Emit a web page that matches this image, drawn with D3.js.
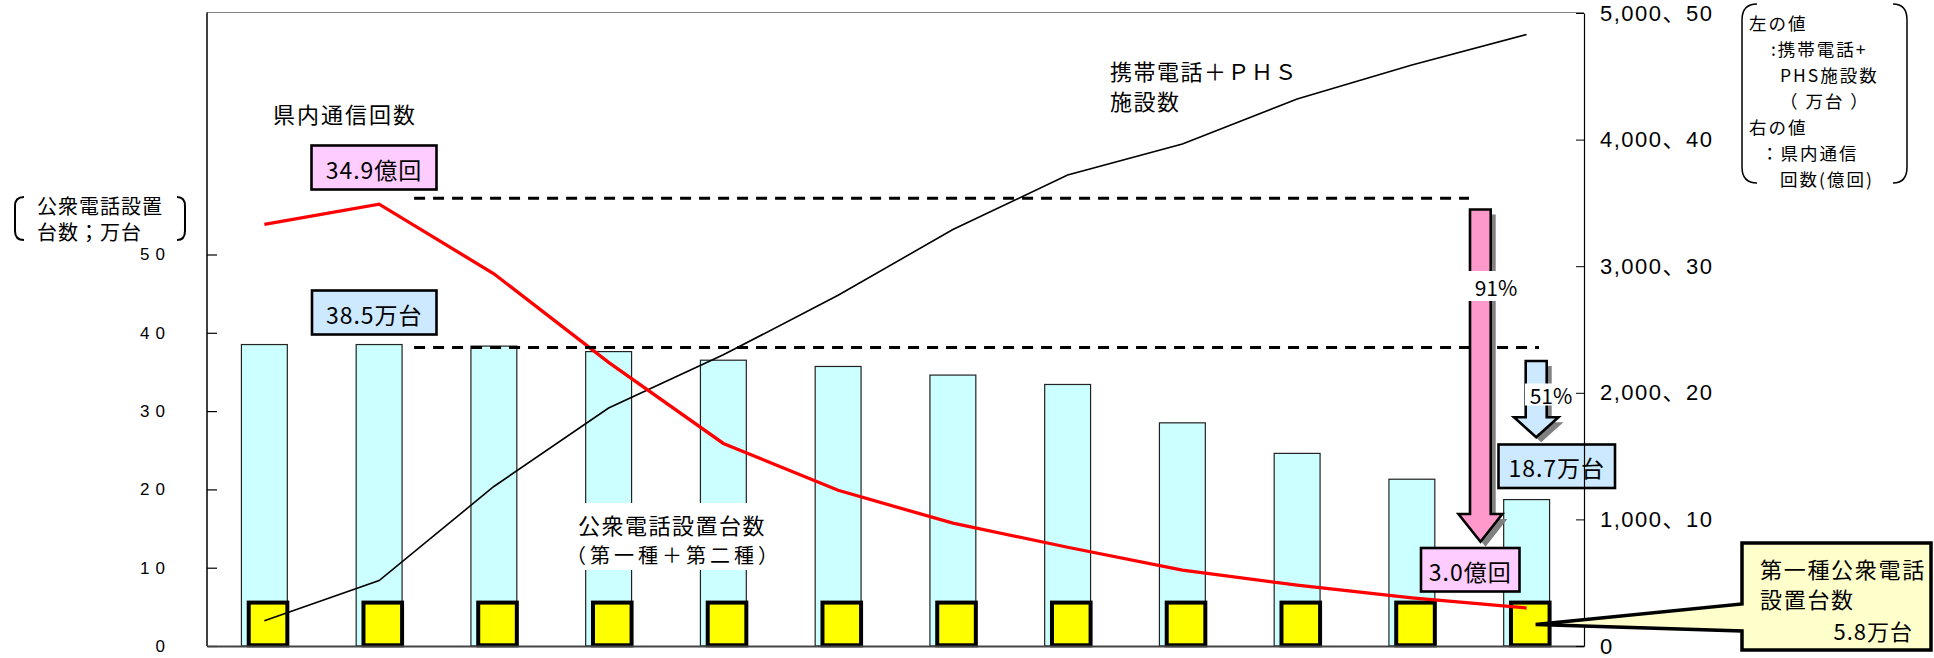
<!DOCTYPE html>
<html>
<head>
<meta charset="utf-8">
<script src="https://cdn.jsdelivr.net/npm/d3@7"></script>
<style>
  body { margin: 0; background: #fff; }
  svg { display: block; font-family: "Noto Sans CJK JP", sans-serif; }
</style>
</head>
<body>
<svg id="chart" width="1934" height="658"></svg>
<script>
// 期間（横軸ラベルは表示されていない）
const periods = ["1", "2", "3", "4", "5", "6", "7", "8", "9", "10", "11", "12"];
// 公衆電話設置台数（第一種＋第二種）万台
const totalPhones = [38.5, 38.5, 38.3, 37.6, 36.5, 35.7, 34.6, 33.4, 28.5, 24.6, 21.3, 18.7];
// 第一種公衆電話設置台数 万台
const type1Phones = [5.8, 5.8, 5.8, 5.8, 5.8, 5.8, 5.8, 5.8, 5.8, 5.8, 5.8, 5.8];
// 携帯電話＋PHS施設数 万台（右軸）
const mobilePhs = [200, 517, 1260, 1880, 2300, 2770, 3290, 3720, 3965, 4320, 4590, 4830];
// 県内通信回数 億回（右軸）
const localCalls = [33.3, 34.9, 29.4, 22.4, 16.0, 12.3, 9.7, 7.8, 6.0, 4.8, 3.8, 3.0];

const leftTicks = [0, 10, 20, 30, 40, 50];
const leftTickLabels = ["0", "10", "20", "30", "40", "50"];
const rightTicks = [0, 1000, 2000, 3000, 4000, 5000];
const rightTickLabels = ["0", "1,000、10", "2,000、20", "3,000、30", "4,000、40", "5,000、50"];

const svg = d3.select("#chart");
const plotL = 207, plotR = 1584, plotT = 12.5, plotB = 646;

const x = d3.scaleBand().domain(periods).range([plotL, plotR]).paddingInner(0.6).paddingOuter(0.3);
const bw = x.bandwidth();
const cx = d => x(d) + bw / 2;
const yL = d3.scaleLinear().domain([0, 50]).range([plotB, 254.5]);
const yM = d3.scaleLinear().domain([0, 5000]).range([plotB, 13]);
const yR = d3.scaleLinear().domain([0, 50]).range([plotB, 13]);

// frame top line
svg.append("line").attr("x1", plotL).attr("x2", plotR).attr("y1", plotT).attr("y2", plotT)
  .attr("stroke", "#808080").attr("stroke-width", 1);

// bars (total)
svg.append("g").selectAll("rect").data(periods).join("rect")
  .attr("x", d => x(d)).attr("width", bw)
  .attr("y", (d, i) => yL(totalPhones[i]))
  .attr("height", (d, i) => plotB - yL(totalPhones[i]))
  .attr("fill", "#ccffff").attr("stroke", "#222").attr("stroke-width", 1.2);

// label for bars with white background
const lblX = (cx(periods[3]) + cx(periods[4])) / 2 + 6;
svg.append("rect").attr("x", lblX - 100).attr("y", 503).attr("width", 200).attr("height", 67).attr("fill", "#fff");
svg.append("text").attr("x", lblX).attr("y", 524).attr("text-anchor", "middle")
  .attr("dominant-baseline", "central").style("font-size", "22px").style("letter-spacing", "1.5px")
  .text("公衆電話設置台数");
svg.append("text").attr("x", lblX + 2).attr("y", 554).attr("text-anchor", "middle")
  .attr("dominant-baseline", "central").style("font-size", "20px").style("letter-spacing", "4px")
  .text("（第一種＋第二種）");

// first-type boxes
svg.append("g").selectAll("rect").data(periods).join("rect")
  .attr("x", d => x(d) + 7.3).attr("width", bw - 7.3)
  .attr("y", (d, i) => yL(type1Phones[i]) + 2)
  .attr("height", (d, i) => plotB - 0.7 - yL(type1Phones[i]) - 2)
  .attr("fill", "#ffff00").attr("stroke", "#000").attr("stroke-width", 4);

// mobile + PHS line
svg.append("path").datum(mobilePhs)
  .attr("d", d3.line().x((d, i) => cx(periods[i])).y(d => yM(d)))
  .attr("fill", "none").attr("stroke", "#000").attr("stroke-width", 1.6);

// local calls line
svg.append("path").datum(localCalls)
  .attr("d", d3.line().x((d, i) => cx(periods[i])).y(d => yR(d)))
  .attr("fill", "none").attr("stroke", "#ff0000").attr("stroke-width", 3.3);

// dashed reference lines
const dashX0 = x(periods[1]) + bw + 12;
svg.append("line").attr("x1", dashX0).attr("x2", 1469)
  .attr("y1", yR(localCalls[1]) - 6).attr("y2", yR(localCalls[1]) - 6)
  .attr("stroke", "#000").attr("stroke-width", 3).attr("stroke-dasharray", "11,8");
svg.append("line").attr("x1", dashX0).attr("x2", 1539)
  .attr("y1", yL(totalPhones[1]) + 3).attr("y2", yL(totalPhones[1]) + 3)
  .attr("stroke", "#000").attr("stroke-width", 3).attr("stroke-dasharray", "11,8");

// value boxes
function valueBox(x0, y0, w, h, fill, label) {
  svg.append("rect").attr("x", x0).attr("y", y0).attr("width", w).attr("height", h)
    .attr("fill", fill).attr("stroke", "#000").attr("stroke-width", 2.6);
  svg.append("text").attr("x", x0 + w / 2).attr("y", y0 + h / 2 + 1)
    .attr("text-anchor", "middle").attr("dominant-baseline", "central")
    .style("font-size", "23px").style("letter-spacing", "1px").text(label);
}
valueBox(311.5, 145.5, 125, 44, "#ffccff", "34.9億回");
valueBox(312, 290.5, 124.5, 44, "#cce9ff", "38.5万台");
valueBox(1421, 548, 98.5, 43.5, "#ffccff", "3.0億回");
valueBox(1498.5, 444.5, 116.5, 43.5, "#cce9ff", "18.7万台");

// arrows
function arrow(pts, fill) {
  const p = d3.line()(pts) + "Z";
  svg.append("path").attr("d", p).attr("transform", "translate(5,5)").attr("fill", "#808080");
  svg.append("path").attr("d", p).attr("fill", fill).attr("stroke", "#000").attr("stroke-width", 2.6)
    .attr("stroke-linejoin", "miter");
}
arrow([[1470, 209.5], [1490.7, 209.5], [1490.7, 514], [1502.3, 514], [1480.5, 541.7], [1458.5, 514], [1470, 514]], "#ff99cc");
arrow([[1525.7, 361], [1546.7, 361], [1546.7, 417.3], [1558.4, 417.3], [1536.2, 437.3], [1514, 417.3], [1525.7, 417.3]], "#cce9ff");

svg.append("rect").attr("x", 1468).attr("y", 271).attr("width", 53.5).attr("height", 30).attr("fill", "#fff");
svg.append("text").attr("x", 1496).attr("y", 287).attr("text-anchor", "middle").attr("dominant-baseline", "central")
  .style("font-size", "21px").text("91%");
svg.append("rect").attr("x", 1525).attr("y", 383.5).attr("width", 50).attr("height", 22).attr("fill", "#fff");
svg.append("text").attr("x", 1551).attr("y", 395).attr("text-anchor", "middle").attr("dominant-baseline", "central")
  .style("font-size", "21px").text("51%");

// series labels
svg.append("text").attr("x", 273).attr("y", 113).attr("dominant-baseline", "central")
  .style("font-size", "22px").style("letter-spacing", "2px").text("県内通信回数");
svg.append("text").attr("x", 1110).attr("y", 70).attr("dominant-baseline", "central")
  .style("font-size", "22px").style("letter-spacing", "1.5px").text("携帯電話＋ＰＨＳ");
svg.append("text").attr("x", 1110).attr("y", 100).attr("dominant-baseline", "central")
  .style("font-size", "22px").style("letter-spacing", "1.5px").text("施設数");

// left axis
svg.append("line").attr("x1", plotL).attr("x2", plotL).attr("y1", plotT).attr("y2", plotB)
  .attr("stroke", "#000").attr("stroke-width", 1.5);
const gl = svg.append("g").attr("transform", `translate(${plotL},0)`)
  .call(d3.axisLeft(yL).tickValues(leftTicks).tickSizeInner(-10).tickSizeOuter(0).tickPadding(36)
    .tickFormat((d, i) => leftTickLabels[i]));
gl.select(".domain").remove();
gl.selectAll(".tick line").attr("stroke", "#000").attr("stroke-width", 1.2);
gl.selectAll(".tick text").style("font-family", "'Liberation Sans', sans-serif").style("font-size", "17px")
  .style("letter-spacing", "6px").attr("fill", "#000");

// bottom axis
const gb = svg.append("g").attr("transform", `translate(0,${plotB})`)
  .call(d3.axisBottom(x).tickValues([]).tickSizeOuter(0));
gb.select(".domain").attr("stroke", "#444").attr("stroke-width", 2);

// right axis
const gr = svg.append("g").attr("transform", `translate(${plotR},0)`)
  .call(d3.axisRight(yM).tickValues(rightTicks).tickSizeInner(-8).tickSizeOuter(0).tickPadding(16)
    .tickFormat((d, i) => rightTickLabels[i]));
gr.select(".domain").attr("stroke", "#000").attr("stroke-width", 1.2);
gr.selectAll(".tick line").attr("stroke", "#000");
gr.selectAll(".tick text").style("font-family", "'Liberation Sans', 'Noto Sans CJK JP', sans-serif")
  .style("font-size", "22px").style("letter-spacing", "1.5px").attr("fill", "#000");

// left axis title with brackets
svg.append("path").attr("d", "M24,197 Q15,197 15,206 L15,231 Q15,240 24,240")
  .attr("fill", "none").attr("stroke", "#000").attr("stroke-width", 2);
svg.append("path").attr("d", "M177,197 Q185,197 185,206 L185,231 Q185,240 177,240")
  .attr("fill", "none").attr("stroke", "#000").attr("stroke-width", 2);
svg.append("text").attr("x", 37).attr("y", 205).attr("dominant-baseline", "central")
  .style("font-size", "20px").style("letter-spacing", "1px").text("公衆電話設置");
svg.append("text").attr("x", 37).attr("y", 231).attr("dominant-baseline", "central")
  .style("font-size", "20px").style("letter-spacing", "1px").text("台数；万台");

// right legend with brackets
svg.append("path").attr("d", "M1757,4 Q1742,4 1742,20 L1742,167 Q1742,183 1757,183")
  .attr("fill", "none").attr("stroke", "#000").attr("stroke-width", 1.5);
svg.append("path").attr("d", "M1893,4 Q1907,4 1907,20 L1907,167 Q1907,183 1893,183")
  .attr("fill", "none").attr("stroke", "#000").attr("stroke-width", 1.5);
const legendLines = [
  ["左の値", 1749, 22], [":携帯電話+", 1771, 48], ["PHS施設数", 1780, 74], ["（ 万台 ）", 1780, 100],
  ["右の値", 1749, 126], ["：県内通信", 1761, 152], ["回数(億回)", 1780, 178]
];
svg.append("g").selectAll("text").data(legendLines).join("text")
  .attr("x", d => d[1]).attr("y", d => d[2]).attr("dominant-baseline", "central")
  .style("font-size", "17.5px").style("letter-spacing", "2px").text(d => d[0]);

// callout for first-type phones
svg.append("path")
  .attr("d", "M1742,543 L1931,543 L1931,650 L1742,650 L1742,631 L" + (cx(periods[11]) + 9) + ",624.5 L1742,604 Z")
  .attr("fill", "#ffffcc").attr("stroke", "#000").attr("stroke-width", 3.5).attr("stroke-linejoin", "miter");
svg.append("text").attr("x", 1760).attr("y", 568).attr("dominant-baseline", "central")
  .style("font-size", "22px").style("letter-spacing", "1.7px").text("第一種公衆電話");
svg.append("text").attr("x", 1760).attr("y", 598).attr("dominant-baseline", "central")
  .style("font-size", "22px").style("letter-spacing", "1.7px").text("設置台数");
svg.append("text").attr("x", 1913).attr("y", 630).attr("text-anchor", "end").attr("dominant-baseline", "central")
  .style("font-size", "22px").style("letter-spacing", "1px").text("5.8万台");
</script>
</body>
</html>
